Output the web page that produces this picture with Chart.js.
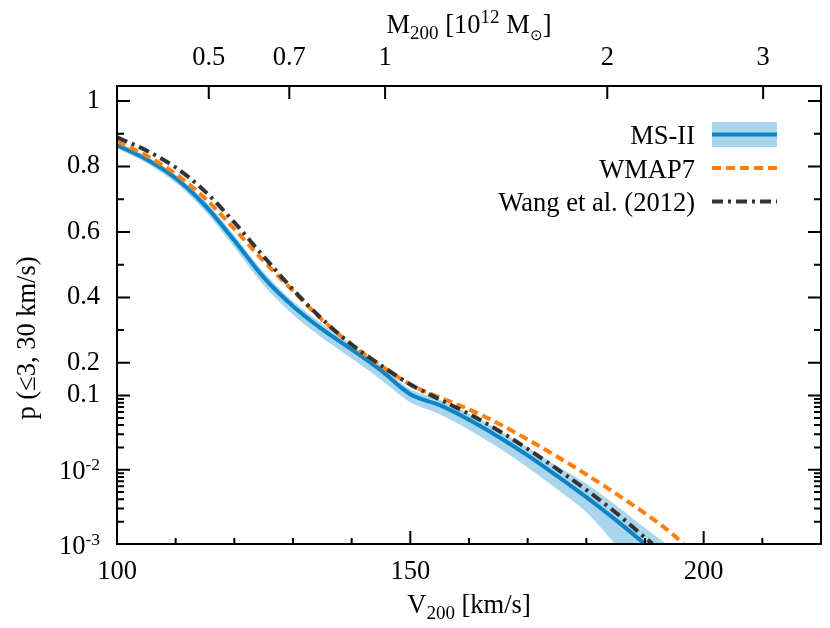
<!DOCTYPE html>
<html>
<head>
<meta charset="utf-8">
<script src="https://cdn.jsdelivr.net/npm/chart.js@4/dist/chart.umd.min.js"></script>
<style>
html,body{margin:0;padding:0;background:#fff;}
#wrap{width:830px;height:628px;position:relative;}
</style>
</head>
<body>
<div id="wrap"><canvas id="c"></canvas></div>
<script>
// ---------------- data ----------------
const msiiV      = [100,105,110,115,120,125,130,135,140,145,150,155,160,165,170,175,180,185,190];
const msiiMedian = [0.865,0.822,0.764,0.681,0.574,0.461,0.373,0.302,0.241,0.177,0.104,0.0742,0.0473,0.0279,0.0156,0.00825,0.00427,0.00211,0.00100];

const bandUpperV = [100,105,110,115,120,125,130,135,140,145,150,155,160,165,170,175,180,185,190,193.6];
const bandUpper  = [0.8725,0.831,0.775,0.695,0.590,0.477,0.388,0.318,0.2565,0.192,0.119,0.0881,0.0570,0.0347,0.0200,0.01125,0.0065,0.00335,0.00164,0.001];
const bandLowerV = [100,105,110,115,120,125,130,135,140,145,150,155,160,165,170,175,180,184.9];
const bandLower  = [0.857,0.811,0.750,0.663,0.553,0.437,0.347,0.276,0.214,0.148,0.081,0.0561,0.0347,0.0199,0.01074,0.00551,0.00268,0.001];

const wmap7V = [100,105,110,115,120,125,130,135,140,145,150,155,160,165,170,175,180,185,190,195,196.5];
const wmap7P = [0.876,0.833,0.777,0.703,0.609,0.511,0.420,0.331,0.255,0.191,0.134,0.0943,0.0650,0.0421,0.0256,0.0151,0.00865,0.00480,0.00258,0.00130,0.001];

const wangV = [100,105,110,115,120,125,130,135,140,145,150,155,160,165,170,175,180,185,190,191.3];
const wangP = [0.889,0.849,0.797,0.724,0.629,0.525,0.424,0.333,0.256,0.192,0.134,0.0886,0.0565,0.0339,0.0191,0.01025,0.00535,0.00266,0.00122,0.001];

// axes / ticks
const xMajorTicks = [100,150,200];
const xMinorTicks = [110,120,130,140,160,170,180,190,210];
const massTicks   = [0.5,0.7,1,2,3];
const massLabels  = ['0.5','0.7','1','2','3'];
const vAtUnitMass = 145.7;            // V200 [km/s] for M200 = 1e12 Msun
const yLinTicks   = [0.1,0.2,0.4,0.6,0.8,1];
const yLinLabels  = ['0.1','0.2','0.4','0.6','0.8','1'];
const yLogTicks   = [0.01,0.001];
const yLogExp     = ['-2','-3'];
const yMinorTicks = [0.3,0.5,0.7,0.9,
  0.02,0.03,0.04,0.05,0.06,0.07,0.08,0.09,
  0.002,0.003,0.004,0.005,0.006,0.007,0.008,0.009];
const legendLabels = ['MS-II','WMAP7','Wang et al. (2012)'];

// ---------------- styling ----------------
const FONT = '"Liberation Serif","Times New Roman",Times,serif';
const FS = 26.5;
const SUB = 19;
const C_BLUE = '#0a84c6', C_BAND = '#a9d5ed', C_ORANGE = '#ff7f0e', C_DARK = '#333333';
const DASH_ORANGE = [9,5], DASH_DARK = [11,5,3,5];

Chart.defaults.font.family = FONT;
Chart.defaults.font.size = FS;
Chart.defaults.color = '#000';

// ---------------- broken y scale: linear above 0.1, log below ----------------
const BREAK = 0.1;
const LIN_PER_DECADE = 4.408;
class BrokenScale extends Chart.LinearScale {
  tf(v){ return v <= BREAK ? Math.log10(v / BREAK) : (v - BREAK) * LIN_PER_DECADE; }
  itf(t){ return t <= 0 ? BREAK * Math.pow(10, t) : BREAK + t / LIN_PER_DECADE; }
  getPixelForValue(v){
    const a = this.tf(this.min), b = this.tf(this.max);
    return this.getPixelForDecimal((this.tf(v) - a) / (b - a));
  }
  getValueForPixel(p){
    const a = this.tf(this.min), b = this.tf(this.max);
    return this.itf(a + this.getDecimalForPixel(p) * (b - a));
  }
}
BrokenScale.id = 'broken';
BrokenScale.defaults = {};
Chart.register(BrokenScale);

const pts = (xs, ys) => xs.map((x, i) => ({x, y: ys[i]}));
// closed band outline: lower edge from its bottom end back to V=100, then upper edge out to its bottom end
const bandPolygon = pts(bandLowerV, bandLower).reverse().concat(pts(bandUpperV, bandUpper));

// ---------------- helpers ----------------
function richText(ctx, parts, x, y, align){
  let w = 0;
  for (const p of parts){ ctx.font = p[1] + 'px ' + FONT; w += ctx.measureText(p[0]).width; }
  let cx = align === 'center' ? x - w / 2 : (align === 'right' ? x - w : x);
  ctx.textAlign = 'left';
  ctx.textBaseline = 'alphabetic';
  for (const p of parts){
    ctx.font = p[1] + 'px ' + FONT;
    ctx.fillText(p[0], cx, y + p[2]);
    cx += ctx.measureText(p[0]).width;
  }
}

const decor = {
  id: 'decor',
  afterDraw(chart){
    const ctx = chart.ctx, a = chart.chartArea;
    const ys = chart.scales.y, xs = chart.scales.x, x2 = chart.scales.x2;
    ctx.save();
    ctx.strokeStyle = '#000'; ctx.fillStyle = '#000';
    ctx.lineWidth = 2; ctx.lineCap = 'butt'; ctx.setLineDash([]);
    const MAJ = 13, MIN = 7;
    ctx.beginPath();
    const yMaj = yLinTicks.concat(yLogTicks);
    for (const v of yMaj){
      const p = ys.getPixelForValue(v);
      ctx.moveTo(a.left, p); ctx.lineTo(a.left + MAJ, p);
      ctx.moveTo(a.right, p); ctx.lineTo(a.right - MAJ, p);
    }
    for (const v of yMinorTicks){
      const p = ys.getPixelForValue(v);
      ctx.moveTo(a.left, p); ctx.lineTo(a.left + MIN, p);
      ctx.moveTo(a.right, p); ctx.lineTo(a.right - MIN, p);
    }
    for (const v of xMajorTicks){ const p = xs.getPixelForValue(v); ctx.moveTo(p, a.bottom); ctx.lineTo(p, a.bottom - MAJ); }
    for (const v of xMinorTicks){ const p = xs.getPixelForValue(v); ctx.moveTo(p, a.bottom); ctx.lineTo(p, a.bottom - 6); }
    for (const t of x2.ticks){ const p = x2.getPixelForValue(t.value); ctx.moveTo(p, a.top); ctx.lineTo(p, a.top + MAJ); }
    ctx.stroke();
    ctx.strokeRect(a.left, a.top, a.right - a.left, a.bottom - a.top);

    // log tick labels with superscripts
    yLogTicks.forEach((v, i) => {
      const p = ys.getPixelForValue(v);
      richText(ctx, [['10', FS, 0], [yLogExp[i], SUB - 1.5, -9]], a.left - 17, p + 9.5, 'right');
    });

    // axis titles
    const cx = (a.left + a.right) / 2;
    richText(ctx, [['V', FS, 0], ['200', SUB, 6], [' [km/s]', FS, 0]], cx, 613, 'center');
    richText(ctx, [['M', FS, 0], ['200', SUB, 6], [' [10', FS, 0], ['12', SUB, -10], [' M', FS, 0], ['\u2299', SUB - 4, 7], [']', FS, 0]], cx, 33, 'center');
    ctx.save();
    ctx.translate(35, 338);
    ctx.rotate(-Math.PI / 2);
    ctx.font = FS + 'px ' + FONT;
    ctx.textAlign = 'center'; ctx.textBaseline = 'alphabetic';
    ctx.fillText('p (\u22643, 30 km/s)', 0, 0);
    ctx.restore();

    // legend
    const lx0 = 712, lx1 = 777, textX = 695, row0 = 134.5, dy = 33.5;
    ctx.fillStyle = C_BAND;
    ctx.fillRect(lx0, row0 - 12.5, lx1 - lx0, 25);
    const styles = [[C_BLUE, []], [C_ORANGE, DASH_ORANGE], [C_DARK, DASH_DARK]];
    styles.forEach((s, i) => {
      const yy = row0 + i * dy;
      ctx.strokeStyle = s[0]; ctx.lineWidth = 4; ctx.setLineDash(s[1]);
      ctx.beginPath(); ctx.moveTo(lx0, yy); ctx.lineTo(lx1, yy); ctx.stroke();
      ctx.setLineDash([]);
      ctx.fillStyle = '#000';
      ctx.font = FS + 'px ' + FONT;
      ctx.textAlign = 'right'; ctx.textBaseline = 'alphabetic';
      ctx.fillText(legendLabels[i], textX, yy + 9.5);
    });
    ctx.restore();
  }
};

const noGrid = {display: false, drawTicks: false};
new Chart(document.getElementById('c'), {
  type: 'line',
  data: {
    datasets: [
      {label: legendLabels[2], data: pts(wangV, wangP), borderColor: C_DARK, borderWidth: 4, borderDash: DASH_DARK,
       pointRadius: 0, fill: false, cubicInterpolationMode: 'monotone', order: 0},
      {label: legendLabels[1], data: pts(wmap7V, wmap7P), borderColor: C_ORANGE, borderWidth: 4, borderDash: DASH_ORANGE,
       pointRadius: 0, fill: false, cubicInterpolationMode: 'monotone', order: 1},
      {label: legendLabels[0], data: pts(msiiV, msiiMedian), borderColor: C_BLUE, borderWidth: 4,
       pointRadius: 0, fill: false, cubicInterpolationMode: 'monotone', order: 2},
      {label: 'MS-II range', data: bandPolygon, borderColor: C_BAND, borderWidth: 0, backgroundColor: C_BAND,
       pointRadius: 0, fill: 'shape', tension: 0.3, order: 3}
    ]
  },
  options: {
    responsive: true, maintainAspectRatio: false, animation: false,
    layout: {padding: {left: 0, right: 9, top: 0, bottom: 0}},
    plugins: {legend: {display: false}, tooltip: {enabled: false}},
    events: [],
    scales: {
      x: {
        type: 'linear', position: 'bottom', min: 100, max: 220,
        grid: noGrid, border: {display: false},
        ticks: {padding: 12, maxRotation: 0, autoSkip: false, callback: v => String(v)},
        afterBuildTicks: s => { s.ticks = xMajorTicks.map(v => ({value: v})); },
        afterFit: s => { s.height = 84; }
      },
      x2: {
        type: 'linear', position: 'top', min: 100, max: 220,
        grid: noGrid, border: {display: false},
        ticks: {padding: 12, maxRotation: 0, autoSkip: false, callback: (v, i) => massLabels[i]},
        afterBuildTicks: s => { s.ticks = massTicks.map(m => ({value: vAtUnitMass * Math.cbrt(m)})); },
        afterFit: s => { s.height = 86; }
      },
      y: {
        type: 'broken', position: 'left', min: 0.001, max: 1.046,
        grid: noGrid, border: {display: false},
        ticks: {padding: 17, autoSkip: false, callback: (v, i) => yLinLabels[i]},
        afterBuildTicks: s => { s.ticks = yLinTicks.map(v => ({value: v})); },
        afterFit: s => { s.width = 117; }
      }
    }
  },
  plugins: [decor]
});
</script>
</body>
</html>
